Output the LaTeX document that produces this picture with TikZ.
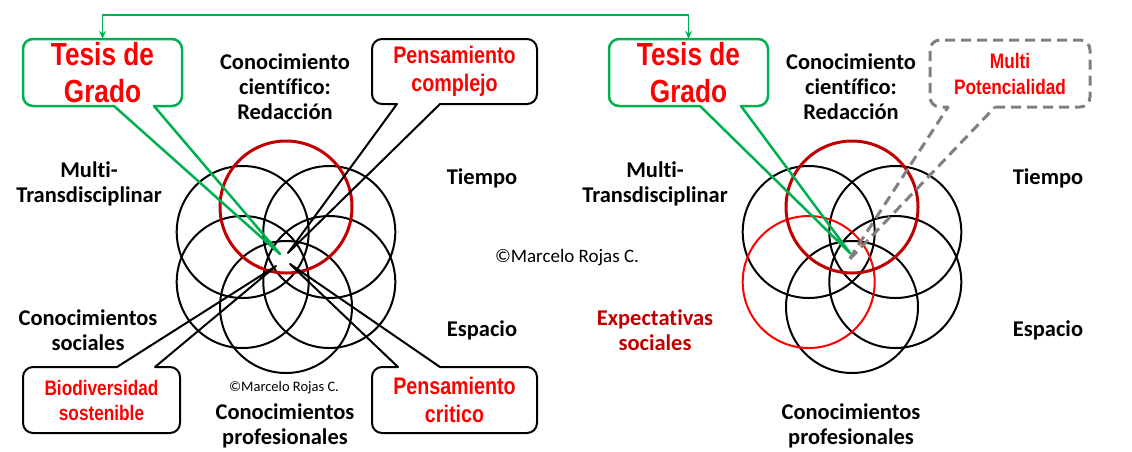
\documentclass[tikz,border=0pt]{standalone}
\usepackage{fontspec}
\setmainfont{Carlito}[Ligatures={NoCommon}]
\newfontfamily\narrowfont[FakeStretch=0.82]{Liberation Sans}
\usetikzlibrary{arrows.meta}
\definecolor{ogreen}{HTML}{00B050}
\definecolor{dred}{HTML}{C00000}
\definecolor{bred}{HTML}{FF0000}
\definecolor{dgray}{HTML}{808080}
% callout with tail below: #1 style, #2 L, #3 T, #4 R, #5 B, #6 base left x, #7 base right x, #8 tip
\newcommand\callbelow[8]{\draw[#1] (#7,#5) -- ({#4-10},#5) arc[start angle=90,end angle=0,radius=10] -- (#4,{#3+10}) arc[start angle=0,end angle=-90,radius=10] -- ({#2+10},#3) arc[start angle=-90,end angle=-180,radius=10] -- (#2,{#5-10}) arc[start angle=180,end angle=90,radius=10] -- (#6,#5) -- (#8) -- cycle;}
% callout with tail above
\newcommand\callabove[8]{\draw[#1] (#6,#3) -- ({#2+10},#3) arc[start angle=-90,end angle=-180,radius=10] -- (#2,{#5-10}) arc[start angle=180,end angle=90,radius=10] -- ({#4-10},#5) arc[start angle=90,end angle=0,radius=10] -- (#4,{#3+10}) arc[start angle=0,end angle=-90,radius=10] -- (#7,#3) -- (#8) -- cycle;}
\begin{document}
\begin{tikzpicture}[x=1pt,y=-1pt,
  lbl/.style={font=\bfseries\fontsize{22.5}{25}\selectfont, align=center, inner sep=0pt},
  ctext/.style={text=bred, align=center, inner sep=0pt},
  ring/.style={draw=black, line width=2pt},
  redring/.style={draw=dred, line width=3pt},
  brightring/.style={draw=bred, line width=2pt},
  blackcall/.style={draw=black, line width=2pt, line join=round},
  greencall/.style={draw=ogreen, line width=2.5pt, line join=round},
  graycall/.style={draw=dgray, line width=3pt, dash pattern=on 10pt off 6pt, line join=round}]
\useasboundingbox[fill=white] (0,0) rectangle (1132,451);

% ---------- left flower ----------
\draw[ring] (242.7,232) circle[radius=66];
\draw[ring] (329.3,232) circle[radius=66];
\draw[ring] (242.7,282) circle[radius=66];
\draw[ring] (329.3,282) circle[radius=66];
\draw[ring] (286,307) circle[radius=66];
\draw[redring] (286,207) circle[radius=66];

% ---------- right flower ----------
\draw[ring] (808.7,232) circle[radius=66];
\draw[ring] (895.3,232) circle[radius=66];
\draw[ring] (895.3,282) circle[radius=66];
\draw[ring] (852,307) circle[radius=66];
\draw[brightring] (808.7,282) circle[radius=66];
\draw[redring] (852,207) circle[radius=66];

% ---------- tips ----------
\coordinate (tipTL) at (280,254);
\coordinate (tipPC) at (288,253);
\coordinate (tipBio) at (276,266);
\coordinate (tipCr) at (290,264);
\coordinate (tipTR) at (850,253);
\coordinate (tipMP) at (848,261);

% ---------- left callouts ----------
\callbelow{greencall}{23}{39}{182}{106}{114}{154}{tipTL}
\node[ctext, font={\narrowfont\bfseries\fontsize{32}{37}\selectfont}, minimum width=159pt, minimum height=67pt] (tesisL) at (102.5,72.5) {Tesis de\\Grado};

\callbelow{blackcall}{372}{39}{537}{104}{397}{440}{tipPC}
\node[ctext, font={\narrowfont\bfseries\fontsize{24}{28}\selectfont}] (complejo) at (454.5,71.5) {Pensamiento\\complejo};

\callabove{blackcall}{23}{367}{180}{433}{117}{155}{tipBio}
\node[ctext, font={\narrowfont\bfseries\fontsize{21}{25}\selectfont}] (bio) at (101.5,400) {Biodiversidad\\sostenible};

\callabove{blackcall}{372}{367}{537}{433}{398}{440}{tipCr}
\node[ctext, font={\narrowfont\bfseries\fontsize{24}{28}\selectfont}] (critico) at (454.5,400) {Pensamiento\\critico};

% ---------- right callouts ----------
\callbelow{greencall}{609}{39}{768}{106}{700}{741}{tipTR}
\node[ctext, font={\narrowfont\bfseries\fontsize{32}{37}\selectfont}, minimum width=159pt, minimum height=67pt] (tesisR) at (688.5,72.5) {Tesis de\\Grado};

\callbelow{graycall}{930}{40}{1090}{107}{948}{995}{tipMP}
\node[ctext, font={\narrowfont\bfseries\fontsize{21}{26}\selectfont}] (multipot) at (1010,73.5) {Multi\\Potencialidad};

% ---------- top connector ----------
\draw[ogreen, line width=1.5pt, {Stealth[length=8pt,width=7pt]}-{Stealth[length=8pt,width=7pt]}] (tesisL.north) -- ++(0,-24) -| (tesisR.north);

% ---------- left labels ----------
\node[lbl] (cientL) at (285,87) {Conocimiento\\científico:\\Redacción};
\node[lbl] (multiL) at (89,184) {Multi-\\Transdisciplinar};
\node[lbl] (tiempoL) at (482,178) {Tiempo};
\node[lbl] (socL) at (88,330) {Conocimientos\\sociales};
\node[lbl] (espL) at (482,330) {Espacio};
\node[lbl] (profL) at (285,426) {Conocimientos\\profesionales};
\node[inner sep=0pt, font=\fontsize{14.5}{16}\selectfont] (copyL) at (284,388) {©Marcelo Rojas C.};
\node[inner sep=0pt, font=\fontsize{19}{22}\selectfont] (copyM) at (567,258) {©Marcelo Rojas C.};

% ---------- right labels ----------
\node[lbl] (cientR) at (851,87) {Conocimiento\\científico:\\Redacción};
\node[lbl] (multiR) at (655,184) {Multi-\\Transdisciplinar};
\node[lbl] (tiempoR) at (1048,178) {Tiempo};
\node[lbl, text=dred] (expR) at (655,330) {Expectativas\\sociales};
\node[lbl] (espR) at (1048,330) {Espacio};
\node[lbl] (profR) at (851,426) {Conocimientos\\profesionales};
\end{tikzpicture}
\end{document}
